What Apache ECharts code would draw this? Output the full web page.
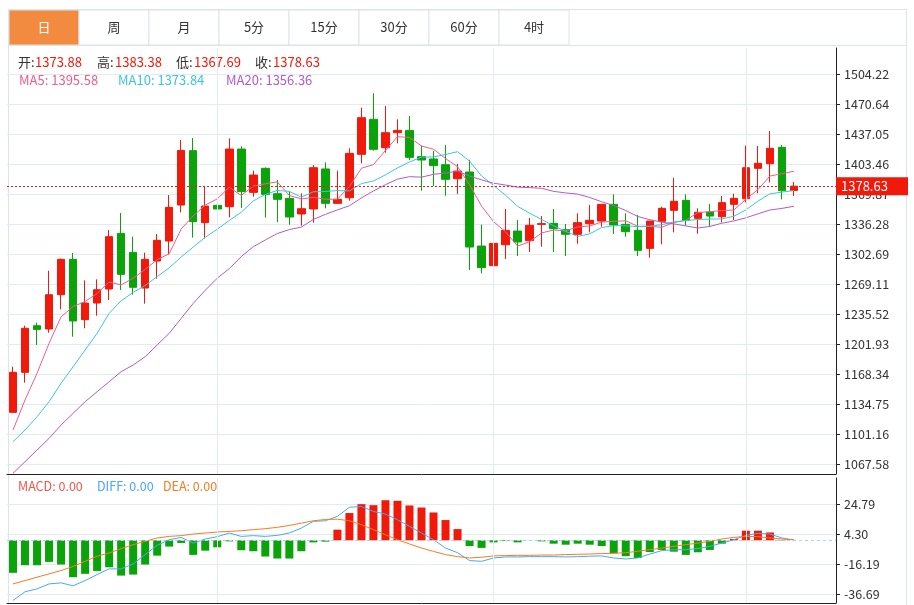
<!DOCTYPE html>
<html><head><meta charset="utf-8">
<script src="https://cdn.jsdelivr.net/npm/echarts@6/dist/echarts.min.js"></script>
<style>html,body{margin:0;padding:0;background:#fff}#c{width:914px;height:605px}</style>
</head><body><div id="c"></div>
<script>
const tabs = ['日','周','月','5分','15分','30分','60分','4时'];
// [open, close, low, high]
const ohlc = [
[1125.4,1170.2,1125.4,1176.5],[1170.2,1219.5,1158.6,1222.4],[1222.4,1218.3,1200.8,1225.8],[1218.7,1257.1,1214.6,1284.0],
[1257.1,1296.7,1240.7,1297.5],[1296.7,1227.7,1210.1,1303.8],[1229.2,1247.8,1219.5,1273.2],[1247.8,1262.7,1233.6,1274.3],
[1263.5,1322.1,1251.2,1329.5],[1325.8,1279.9,1262.4,1348.6],[1304.5,1265.4,1257.1,1322.1],[1264.6,1296.7,1247.1,1304.2],
[1294.8,1318.0,1275.1,1325.1],[1317.2,1354.9,1302.3,1368.7],[1357.5,1418.7,1349.3,1430.3],[1418.4,1338.9,1321.0,1432.6],
[1337.8,1356.4,1320.2,1378.8],[1357.2,1353.1,1325.8,1369.9],[1355.7,1420.2,1343.7,1432.2],[1420.2,1372.5,1354.2,1423.2],
[1371.7,1391.1,1366.9,1396.0],[1398.6,1369.5,1343.4,1399.7],[1370.2,1363.9,1338.5,1385.5],[1365.0,1344.1,1335.5,1372.8],
[1347.5,1353.4,1334.4,1370.6],[1353.1,1399.3,1337.8,1402.3],[1397.9,1359.4,1353.8,1405.3],[1359.4,1363.9,1358.7,1396.0],
[1365.7,1415.4,1362.4,1421.0],[1414.3,1455.3,1404.2,1466.5],[1453.5,1419.9,1418.4,1482.6],[1421.7,1438.5,1416.1,1468.4],
[1438.5,1441.1,1426.6,1453.5],[1441.1,1410.9,1407.9,1457.2],[1411.7,1407.9,1373.6,1424.0],[1409.1,1401.6,1378.8,1418.0],
[1402.7,1386.3,1368.0,1424.7],[1387.0,1395.6,1369.9,1403.5],[1394.5,1310.5,1284.8,1407.9],[1311.6,1287.4,1281.0,1335.5],
[1289.6,1314.6,1255.7,1315.4],[1313.1,1329.2,1297.1,1353.1],[1328.4,1316.1,1300.4,1340.7],[1317.6,1334.8,1304.9,1343.0],
[1335.9,1336.7,1310.9,1345.2],[1337.0,1331.0,1304.9,1353.1],[1329.9,1324.7,1300.4,1336.3],[1324.7,1337.8,1314.2,1348.2],
[1336.6,1340.4,1326.9,1357.5],[1339.6,1358.3,1333.3,1358.3],[1358.3,1335.2,1325.1,1369.5],[1335.9,1327.7,1322.1,1348.2],
[1329.2,1306.8,1300.4,1346.3],[1309.0,1339.6,1298.6,1339.6],[1339.3,1353.8,1313.5,1355.7],[1351.6,1361.7,1326.9,1388.1],
[1362.8,1340.4,1334.4,1369.5],[1342.6,1349.3,1325.4,1353.8],[1349.7,1345.2,1333.3,1358.7],[1344.5,1360.2,1338.1,1367.6],
[1358.3,1365.0,1340.7,1370.2],[1364.6,1399.3,1360.5,1424.0],[1398.6,1404.2,1370.6,1423.6],[1403.8,1421.0,1382.9,1440.4],
[1422.1,1373.6,1363.9,1424.7],[1373.88,1378.63,1367.69,1383.38]
];
// MA values before enough history is visible
const ma5Early = [1105.6,1139.2,1169.1,1202.7];
const ma10Early = [1092.5,1105.6,1120.5,1137.3,1157.9,1176.5,1195.2,1213.9,1236.2];
const ma20Early = [1057.1,1070.2,1083.2,1096.3,1111.2,1124.3,1137.3,1148.5,1159.7,1170.9,1178.4,1187.7,1200.8,1213.9,1230.6,1247.4,1262.1,1275.6,1286.3];
const macdBar = [-22.3,-17.1,-17.1,-14.8,-16.6,-25.3,-23.0,-21.0,-18.5,-24.2,-23.5,-16.6,-10.5,-4.3,-1.8,-10.0,-7.1,-4.8,-0.7,-6.8,
-7.5,-11.1,-12.5,-12.5,-7.5,-1.4,-0.9,7.3,18.7,24.8,24.1,27.5,27.1,23.9,22.5,19.1,13.9,7.7,-3.9,-5.2,
-1.4,-0.5,-1.4,-0.1,-0.7,-2.3,-3.0,-2.3,-3.0,-3.9,-8.9,-10.9,-12.1,-8.0,-6.6,-7.8,-10.0,-8.2,-6.6,-2.3,
0.9,6.6,6.6,5.4,0.3,0.0];
const diff = [-41.2,-35.3,-33.3,-29.9,-29.2,-31.2,-27.6,-23.5,-19.6,-19.6,-16.2,-9.8,-3.4,0.4,2.0,-1.9,0.9,2.5,5.0,2.7,
3.2,2.7,3.4,5.0,8.4,13.0,13.4,16.4,22.7,23.2,19.8,18.0,14.1,9.6,5.0,0.4,-5.3,-8.5,-13.9,-14.4,
-12.1,-11.4,-11.4,-11.2,-11.2,-11.2,-11.4,-11.2,-10.9,-10.7,-12.1,-12.8,-12.1,-9.4,-7.1,-6.4,-6.4,-5.7,-4.1,-1.9,
0.4,3.4,4.8,4.3,1.6,0.2];
const dea = [-29.9,-27.6,-25.3,-23.0,-20.7,-18.0,-14.4,-10.9,-8.7,-5.7,-3.0,-0.7,1.6,2.7,3.2,4.3,5.0,5.7,6.1,6.6,
7.3,8.0,8.9,10.2,11.8,13.4,14.3,14.5,13.4,10.7,7.3,3.8,0.4,-2.5,-5.3,-7.6,-9.8,-11.2,-12.1,-11.6,
-10.7,-10.5,-10.3,-10.3,-10.1,-10.1,-9.8,-9.6,-9.4,-9.1,-8.9,-8.5,-7.5,-6.4,-5.3,-4.1,-3.0,-1.9,-0.7,0.9,
2.0,2.7,2.5,1.6,0.9,0.4];
const priceTicks = [1067.58,1101.16,1134.75,1168.34,1201.93,1235.52,1269.11,1302.69,1336.28,1369.87,1403.46,1437.05,1470.64,1504.22];
const macdTicks = [-36.69,-16.19,4.30,24.79];
const monthLines = [17,40,61];
const lastClose = 1378.63;
const NCAT = 69;

const cats = Array.from({length:NCAT},(_,i)=>String(i+1));
function ma(n, early){
  const closes = ohlc.map(d=>d[1]);
  return closes.map((_,i)=>{
    if(i<n-1) return early[i];
    let s=0; for(let k=i-n+1;k<=i;k++) s+=closes[k];
    return +(s/n).toFixed(2);
  });
}
const RED='#f0190a', GREEN='#0aa40a';
const gridLine = {lineStyle:{color:'#e3ebf2',width:1}};
const vLines = monthLines.map(v=>({xAxis:v}));

const g = [];
g.push({type:'rect',shape:{x:8.5,y:9.5,width:898,height:600},style:{fill:'none',stroke:'#dde3ea',lineWidth:1},z:0});
tabs.forEach((t,i)=>{
  g.push({type:'rect',shape:{x:9+i*70,y:10,width:70,height:35},style:{fill:i===0?'#f28b3f':'#fff',stroke:'#dde3ea',lineWidth:1},z:1});
  g.push({type:'text',x:44+i*70,y:27.5,style:{text:t,fill:i===0?'#fff':'#333',font:'13px "Noto Sans CJK SC",sans-serif',align:'center',verticalAlign:'middle'},z:2});
});
g.push({type:'line',shape:{x1:9,y1:45.5,x2:906,y2:45.5},style:{stroke:'#dde3ea'}});
const f13='13px "Noto Sans CJK SC",sans-serif';
const f12='12.5px "Noto Sans CJK SC",sans-serif';
function txt(x,y,t,c,f){g.push({type:'text',x,y,style:{text:t,fill:c,font:f||f13,verticalAlign:'middle'},z:5});}
txt(18,62,'开:','#333');txt(35,62,'1373.88','#f0190a');
txt(97,62,'高:','#333');txt(115,62,'1383.38','#f0190a');
txt(176,62,'低:','#333');txt(194,62,'1367.69','#f0190a');
txt(255,62,'收:','#333');txt(273,62,'1378.63','#f0190a');
txt(19,80,'MA5: 1395.58','#ee5d8c');txt(118,80,'MA10: 1373.84','#3cc5dd');txt(226,80,'MA20: 1356.36','#b15cc9');
txt(18,486,'MACD: 0.00','#f0584a',f12);txt(97,486,'DIFF: 0.00','#4aa8f0',f12);txt(163,486,'DEA: 0.00','#f57c22',f12);

const chart = echarts.init(document.getElementById('c'));
chart.setOption({
  animation:false,
  graphic:g,
  grid:[{left:7,right:78,top:48,bottom:131},{left:7,right:78,top:478,bottom:2}],
  xAxis:[
    {type:'category',data:cats,gridIndex:0,axisLine:{lineStyle:{color:'#222'}},axisTick:{show:false},axisLabel:{show:false},splitLine:{show:false}},
    {type:'category',data:cats,gridIndex:1,axisLine:{onZero:false,lineStyle:{color:'#222'}},axisTick:{show:false},axisLabel:{show:false},splitLine:{show:false}}
  ],
  yAxis:[
    {type:'value',gridIndex:0,position:'right',min:1056.38,max:1533.33,
     axisLine:{show:true,lineStyle:{color:'#222'}},
     axisTick:{show:true,length:4,customValues:priceTicks,lineStyle:{color:'#222'}},
     axisLabel:{customValues:priceTicks,formatter:v=>v.toFixed(2),color:'#333',fontSize:12.5,fontFamily:'"Noto Sans CJK SC",sans-serif',margin:8},
     splitLine:{show:true,...gridLine}},
    {type:'value',gridIndex:1,position:'right',min:-43.0,max:42.75,
     axisLine:{show:true,lineStyle:{color:'#222'}},
     axisTick:{show:true,length:4,customValues:macdTicks,lineStyle:{color:'#222'}},
     axisLabel:{customValues:macdTicks,formatter:v=>v.toFixed(2),color:'#333',fontSize:12.5,fontFamily:'"Noto Sans CJK SC",sans-serif',margin:8},
     splitLine:{show:true,...gridLine}}
  ],
  series:[
    {type:'candlestick',xAxisIndex:0,yAxisIndex:0,data:ohlc,barWidth:8,
     itemStyle:{color:RED,color0:GREEN,borderColor:RED,borderColor0:GREEN,borderWidth:1},
     markLine:{silent:true,symbol:'none',data:[
       {yAxis:lastClose,lineStyle:{color:'#f0190a',type:[2,2],width:1},label:{show:true,position:'end',distance:0,formatter:'1378.63',color:'#fff',backgroundColor:'#f0190a',padding:[3,5,2,5],fontSize:13,fontFamily:'"Noto Sans CJK SC",sans-serif',width:62}},
       ...vLines.map(v=>({...v,lineStyle:{color:'#e3ebf2',type:'solid',width:1},label:{show:false}}))
     ]}},
    {type:'line',name:'MA5',data:ma(5,ma5Early),symbol:'none',lineStyle:{width:1,color:'#ee5d8c'},xAxisIndex:0,yAxisIndex:0},
    {type:'line',name:'MA10',data:ma(10,ma10Early),symbol:'none',lineStyle:{width:1,color:'#3cc5dd'},xAxisIndex:0,yAxisIndex:0},
    {type:'line',name:'MA20',data:ma(20,ma20Early),symbol:'none',lineStyle:{width:1,color:'#b15cc9'},xAxisIndex:0,yAxisIndex:0},
    {type:'bar',xAxisIndex:1,yAxisIndex:1,barWidth:8,
     data:macdBar.map(v=>({value:v,itemStyle:{color:v>=0?RED:GREEN}})),
     markLine:{silent:true,symbol:'none',data:[
       {yAxis:0,lineStyle:{color:'#a9d3ee',type:[3,3],width:1},label:{show:false}},
       ...vLines.map(v=>({...v,lineStyle:{color:'#e3ebf2',type:'solid',width:1},label:{show:false}}))
     ]}},
    {type:'line',data:diff,symbol:'none',lineStyle:{width:1,color:'#4aa8f0'},xAxisIndex:1,yAxisIndex:1},
    {type:'line',data:dea,symbol:'none',lineStyle:{width:1,color:'#f57c22'},xAxisIndex:1,yAxisIndex:1}
  ]
});
</script></body></html>
